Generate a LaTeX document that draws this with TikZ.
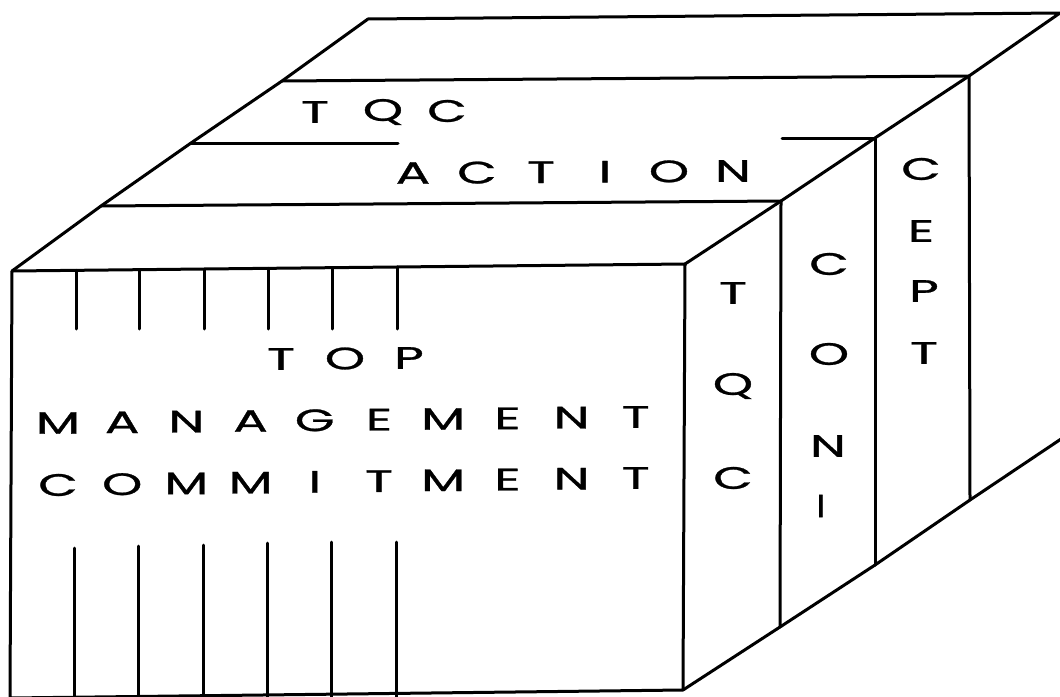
\documentclass[tikz,border=0pt]{standalone}
\usepackage{graphicx}
\usepackage{fontspec}
\newfontfamily\gfont{Poppins}[FakeBold=0.8]
\begin{document}
\begin{tikzpicture}[x=1pt,y=-1pt,
  edge/.style={line width=3pt, line cap=round, line join=round},
  lt/.style={inner sep=0pt, font=\gfont\fontsize{31}{31}\selectfont}]
\useasboundingbox (0,0) rectangle (1060,696);
% key corners
\coordinate (FTL) at (12,271);
\coordinate (FTR) at (685,264);
\coordinate (FBR) at (683,690);
\coordinate (FBL) at (10,698);
\coordinate (BL) at (368,19);
\coordinate (BR) at (1060,13);
\coordinate (L1) at (282,81);
\coordinate (L2) at (191,143);
\coordinate (L3) at (101,206);
\coordinate (R1) at (781,201);
\coordinate (R2) at (875,138);
\coordinate (R3) at (969,76);
\coordinate (B1) at (780,627);
\coordinate (B2) at (875,565);
\coordinate (B3) at (970,500);
\coordinate (BE) at (1064,437);
% outline of the block
\draw[edge] (FBL) -- (FTL) -- (FTR) -- (FBR) -- cycle;
\draw[edge] (FTL) -- (L3) -- (L2) -- (L1) -- (BL) -- (BR) -- (R3) -- (R2) -- (R1) -- (FTR);
\draw[edge] (FBR) -- (B1) -- (B2) -- (B3) -- (BE);
% top face layers
\draw[edge] (L1) -- (R3);
\draw[edge] (L2) -- (398,143);
\draw[edge] (782,138) -- (R2);
\draw[edge] (L3) -- (R1);
% right face columns
\draw[edge] (R1) -- (B1);
\draw[edge] (R2) -- (B2);
\draw[edge] (R3) -- (B3);
% front stubs
\foreach \xa/\ya/\xb/\yb in {76/270.3/74/548, 139/269.7/138/546, 204/269/203/545, 268/268.3/267/543, 332/267.7/331/542, 397/267/396/542}{
  \draw[edge] (\xa,\ya) -- (\xa,329);
  \draw[edge] (\xb,\yb) -- (\xb,700);
}
% front text
\foreach \ch/\x/\y [count=\i] in {T/281/359, O/345/358.5, P/409/358}
  \node[lt] (top\i) at (\x,\y) {\scalebox{1.65}[1]{\ch}};
\foreach \ch [count=\i from 0] in {M,A,N,A,G,E,M,E,N,T}
  \node[lt] (man\i) at ({58+64.2*\i},{423-6*\i/9}) {\scalebox{1.65}[1]{\ch}};
\foreach \ch [count=\i from 0] in {C,O,M,M,I,T,M,E,N,T}
  \node[lt] (com\i) at ({58+64.2*\i},{485-7*\i/9}) {\scalebox{1.65}[1]{\ch}};
% top face text
\foreach \ch/\x/\y [count=\i] in {T/315/112, Q/383/112, C/447/111}
  \node[lt] (tqc\i) at (\x,\y) {\scalebox{1.65}[1]{\ch}};
\foreach \ch [count=\i from 0] in {A,C,T,I,O,N}
  \node[lt] (act\i) at ({413+64*\i},{173-0.4*\i}) {\scalebox{1.65}[1]{\ch}};
% right face text
\foreach \ch/\x/\y [count=\i] in {T/733/293, Q/733/386, C/733/478}
  \node[lt] (ca\i) at (\x,\y) {\scalebox{1.65}[1]{\ch}};
\foreach \ch/\x/\y [count=\i] in {C/829/264, O/829/354, N/828/446}
  \node[lt] (cb\i) at (\x,\y) {\scalebox{1.65}[1]{\ch}};
\node[lt, rotate=90] (cb4) at (828,505) {\scalebox{1.8}[1.4]{-}};
\foreach \ch/\x/\y [count=\i] in {C/921/169, E/921/231, P/924/291, T/924/353}
  \node[lt] (cc\i) at (\x,\y) {\scalebox{1.65}[1]{\ch}};
\end{tikzpicture}
\end{document}
